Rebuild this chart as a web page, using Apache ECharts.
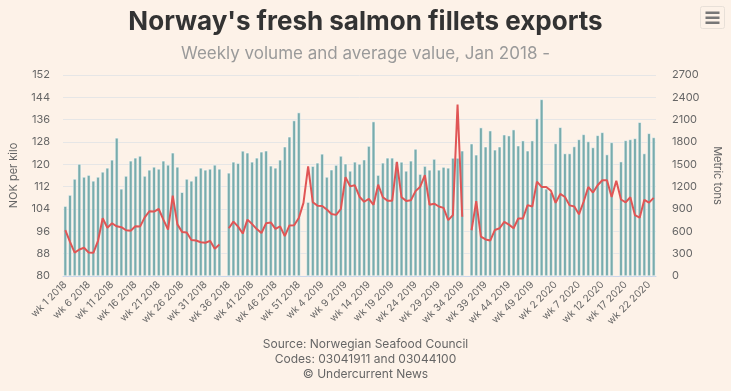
<!DOCTYPE html>
<html>
<head>
<meta charset="utf-8">
<script src="https://cdn.jsdelivr.net/npm/echarts@6/dist/echarts.min.js"></script>
<style>
html,body{margin:0;padding:0;background:#fdf2e8;}
#c{width:731px;height:391px;}
</style>
</head>
<body>
<div id="c"></div>
<script>
const years = [2018, 2019, 2020];
const weeksPerYear = [52, 52, 23];
const categories = [];
years.forEach((y, i) => { for (let w = 1; w <= weeksPerYear[i]; w++) categories.push('wk ' + w + ' ' + y); });

const volumeTons = [
 938,1087,1303,1504,1330,1355,1277,1330,1398,1452,
 1560,1855,1170,1343,1547,1587,1612,1343,1425,1465,
 1438,1547,1492,1655,1465,1125,1303,1277,1343,1452,
 1425,1438,1492,1438,null,1385,1533,1515,1680,1655,
 1533,1587,1668,1682,1480,1452,1560,1736,1870,2088,
 2195,null,
 992,1475,1520,1640,1330,1427,1490,1612,1508,1411,
 1533,1505,1562,1745,2074,1355,1520,1587,1587,1530,
 1532,1411,1547,1706,1368,1476,1425,1571,1425,1463,
 1452,1585,1585,1682,null,1777,1628,1993,1736,1952,
 1695,1736,1898,1885,1966,1750,1818,1682,1818,2115,
 2372,1170,
 1120,1780,1997,1645,1645,1739,1834,1902,1807,1726,
 1889,1929,1631,1794,null,1536,1821,1834,1848,2065,
 1645,1916,1861
];

const priceNok = [
 96.4,92.2,88.4,89.5,90.1,88.4,88.3,92.6,100.7,97.3,
 98.9,97.8,97.5,96.4,96.2,97.8,97.7,101,103.2,103.1,
 104,100.2,96.6,108.8,98.5,95.8,95.6,92.9,92.7,92.1,
 91.9,92.6,89.8,91.3,null,97.1,99.5,97.7,95.2,100.2,
 98.6,96.8,95.4,98.9,99.2,96.9,97.8,94.3,98.1,98.2,
 100.8,106.2,
 119.3,106.4,105.2,105.1,103.8,102.2,101.9,104,115.4,112.1,
 112.5,108.4,106.6,107.6,105.5,112.7,108.2,107,107,120.9,
 108.2,106.9,107.1,110.4,112,116.1,105.5,105.9,104.9,104.4,
 100,101.8,141.4,101.2,null,96.4,106.8,94.1,93.1,92.7,
 96.5,97.1,99.4,98.4,97.1,100.6,100.6,105.4,104.9,113.8,
 111.9,111.9,
 110.5,106.2,109.4,108.3,105.3,104.9,102.1,106.6,111.9,109.9,
 112.5,114.3,114.3,108.3,114.1,107.4,106.4,108.2,101.8,100.9,
 107.3,106.3,108
];

const leftTicks = {min: 80, max: 152, interval: 8};
const rightTicks = {min: 0, max: 2700, interval: 300};
const creditLines = ['Source: Norwegian Seafood Council', 'Codes: 03041911 and 03044100', '\u00a9 Undercurrent News'];

const FONT = 'Inter, "Open Sans", sans-serif';
const chart = echarts.init(document.getElementById('c'), null, {renderer: 'canvas'});
chart.setOption({
  backgroundColor: '#fdf2e8',
  animation: false,
  textStyle: {fontFamily: FONT},
  title: [
    {text: "Norway's fresh salmon fillets exports", left: 'center', top: 4,
     textStyle: {fontFamily: FONT, fontSize: 26, fontWeight: 'bold', color: '#333333'}},
    {text: 'Weekly volume and average value, Jan 2018 -', left: 'center', top: 40,
     textStyle: {fontFamily: FONT, fontSize: 17, fontWeight: 'normal', color: '#9a9a9a'}}
  ],
  grid: {left: 60, right: 71, top: 75, bottom: 115, containLabel: false},
  xAxis: {
    type: 'category', data: categories, boundaryGap: true,
    axisLine: {lineStyle: {color: '#ccd6eb'}},
    axisTick: {show: false},
    axisLabel: {interval: 4, rotate: 45, fontSize: 10, color: '#666666', margin: 7, fontFamily: FONT},
    splitLine: {show: false}
  },
  yAxis: [
    {type: 'value', min: leftTicks.min, max: leftTicks.max, interval: leftTicks.interval,
     name: 'NOK per kilo', nameLocation: 'middle', nameRotate: 90, nameGap: 44,
     nameTextStyle: {color: '#666666', fontSize: 11, fontFamily: FONT},
     axisLabel: {color: '#666666', fontSize: 11, margin: 13, fontFamily: FONT},
     axisLine: {show: false}, axisTick: {show: false},
     splitLine: {lineStyle: {color: '#e6e6e6', width: 1}}},
    {type: 'value', min: rightTicks.min, max: rightTicks.max, interval: rightTicks.interval, position: 'right',
     name: 'Metric tons', nameLocation: 'middle', nameRotate: -90, nameGap: 56,
     nameTextStyle: {color: '#666666', fontSize: 11, fontFamily: FONT},
     axisLabel: {color: '#666666', fontSize: 11, margin: 16, fontFamily: FONT, formatter: v => String(v)},
     axisLine: {show: false}, axisTick: {show: false},
     splitLine: {show: false}}
  ],
  series: [
    {type: 'bar', name: 'Volume', yAxisIndex: 1, data: volumeTons, barWidth: '72%',
     itemStyle: {color: '#78acad', borderColor: '#ffffff', borderWidth: 0.5}, z: 2},
    {type: 'line', name: 'Value', yAxisIndex: 0, data: priceNok, showSymbol: false, symbol: 'none',
     lineStyle: {color: '#e05555', width: 2}, itemStyle: {color: '#e05555'}, z: 3, connectNulls: false}
  ],
  graphic: [
    {type: 'group', left: 700, top: 6, children: [
      {type: 'rect', shape: {x: 0, y: 0, width: 24, height: 22, r: 2}, style: {fill: '#fdf2e8', stroke: '#e8e0d8', lineWidth: 1}},
      {type: 'rect', shape: {x: 5, y: 5, width: 14, height: 2.5}, style: {fill: '#777777'}},
      {type: 'rect', shape: {x: 5, y: 10, width: 14, height: 2.5}, style: {fill: '#777777'}},
      {type: 'rect', shape: {x: 5, y: 15, width: 14, height: 2.5}, style: {fill: '#777777'}}
    ]},
    {type: 'text', left: 'center', top: 337,
     style: {text: creditLines.join('\n'), textAlign: 'center', fill: '#666666', fontSize: 12, lineHeight: 15, fontFamily: FONT}}
  ]
});
</script>
</body>
</html>
